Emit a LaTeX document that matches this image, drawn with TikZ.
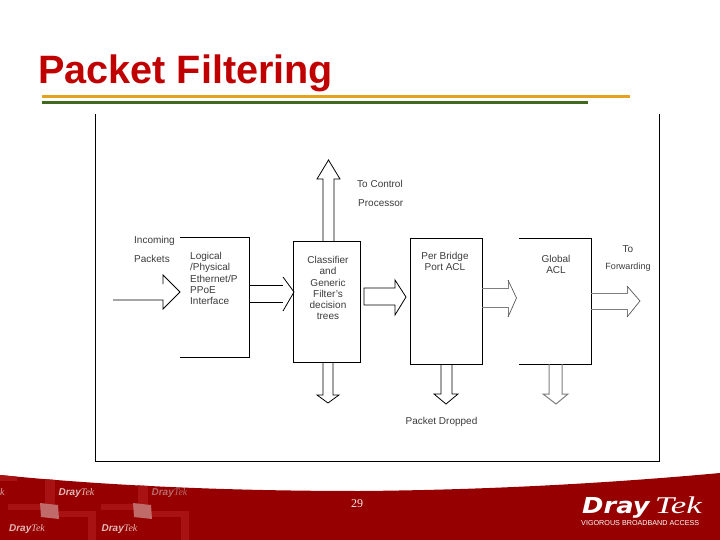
\documentclass[tikz,border=0pt]{standalone}
\usepackage{fontspec}
\setmainfont{Liberation Sans}
\newfontfamily\serifnum{Liberation Serif}
\newfontfamily\logofont{DejaVu Sans}
\usepackage{xcolor}
\usetikzlibrary{calc}
\definecolor{titlered}{HTML}{C00000}
\definecolor{footred}{HTML}{960000}
\definecolor{bandred}{HTML}{A81212}
\definecolor{patchred}{HTML}{C06A6A}
\definecolor{barorange}{HTML}{E5A21F}
\definecolor{bargreen}{HTML}{3F6A1C}
\definecolor{labelgray}{HTML}{3A3A3A}
\definecolor{softgray}{HTML}{7E7E7E}
\newcommand{\wmarkword}{{\bfseries\itshape Dray}{\serifnum\itshape Tek}}

\begin{document}
\begin{tikzpicture}[
  x=1pt, y=-1pt,
  line join=miter,
  boxnode/.style={draw=black, line width=0.9pt, inner sep=0pt},
  openbox/.style={inner sep=0pt},
  hollow/.style={draw=black, line width=0.8pt},
  hollowgray/.style={draw=softgray, line width=1pt},
  txt/.style={text=labelgray, font=\fontsize{10}{11.3}\selectfont, inner sep=0pt, align=center},
  wmarktext/.style={font=\fontsize{10}{10}\selectfont, inner sep=0pt},
  ]
  \useasboundingbox (0,0) rectangle (720,540);

  % Title and the two bars
  \node[anchor=base west, inner sep=0pt, text=titlered, font=\bfseries\fontsize{39.6}{39.6}\selectfont] (title) at (38,84) {Packet Filtering};
  \draw[barorange, line width=3pt] (42,96.5) -- (630,96.5);
  \draw[bargreen, line width=3pt] (42,102.5) -- (588,102.5);

  % Footer band
  \begin{scope}
    \clip (0,475) .. controls (100,485) and (220,491) .. (360,491)
      .. controls (480,490) and (600,484) .. (720,473) -- (720,540) -- (0,540) -- cycle;
    \fill[footred] (0,460) rectangle (720,540);
    \foreach \dx in {0,93} {
      \fill[bandred] (45+\dx,470) rectangle (55+\dx,505);
      \fill[bandred] (8+\dx,504) rectangle (45+\dx,510);
      \fill[bandred] (58+\dx,511) rectangle (96+\dx,517);
      \fill[bandred] (88+\dx,517) rectangle (96+\dx,540);
      \fill[patchred] (40+\dx,503) -- (58+\dx,505) -- (59+\dx,519) -- (41+\dx,517) -- cycle;
    }
    \fill[bandred] (-5,470) rectangle (17,481);
    \foreach \wx/\wy/\wc in {76.5/493/E3B9B9, 169.5/493/B86A6A, 27/529/E3B9B9, 119.5/529/E3B9B9} {
      \definecolor{wmark}{HTML}{\wc}
      \node[wmarktext, text=wmark] at (\wx,\wy) {\wmarkword};
    }
    \node[wmarktext, text=patchred!60!white, anchor=west] (edgek) at (0,492) {\serifnum\itshape k};
  \end{scope}
  \node[txt, text=white!90!footred, font=\serifnum\fontsize{12}{12}\selectfont] (page) at (357,504) {29};

  % Logo
  \node[anchor=base west, inner sep=0pt, text=white, font=\logofont\bfseries\itshape\fontsize{22}{22}\selectfont] (logodray) at (582,513) {\scalebox{1.17}[1]{Dray}};
  \node[anchor=base east, inner sep=0pt, text=white, font=\serifnum\itshape\fontsize{24}{24}\selectfont] (logotek) at (702,513) {\scalebox{1.45}[1]{Tek}};
  \node[anchor=west, inner sep=0pt, text=white, font=\fontsize{7.2}{7.2}\selectfont] (logotag) at (581,523) {VIGOROUS BROADBAND ACCESS};

  % Outer frame, open on top
  \draw[black, line width=1pt] (95.5,114) -- (95.5,461) -- (659,461) -- (659,114);

  % Blocks
  \node[openbox, minimum width=69pt, minimum height=119pt] (logical) at (214.5,297.5) {};
  \node[boxnode, minimum width=67pt, minimum height=120.5pt] (classifier) at (327,301.75) {};
  \node[boxnode, minimum width=72pt, minimum height=126pt] (bridge) at (446,301) {};
  \node[openbox, minimum width=72pt, minimum height=125pt] (global) at (555,301.5) {};
  \draw[black, line width=0.9pt] (logical.north west) -- (logical.north east) -- (logical.south east) -- (logical.south west);
  \draw[black, line width=0.9pt] (global.north west) -- (global.north east) -- (global.south east) -- (global.south west);

  % Incoming arrow
  \coordinate (instart) at (113,300);
  \draw[hollow] (instart) -- (163,300) -- (163,309) -- (180,292) -- (163,275) -- (163,284);

  % Logical to classifier
  \draw[hollow] (logical.east |- 0,285) -- (283,285);
  \draw[hollow] (logical.east |- 0,302) -- (283,302);
  \draw[hollow] (283,277) -- (294,292) -- (283,311);

  % Up to control processor
  \draw[hollow] (323,0 |- classifier.north) -- (323,179) -- (317,179) -- (328.5,160) -- (340,179) -- (334,179) -- (334,0 |- classifier.north);

  % Classifier down
  \draw[hollow] (323,0 |- classifier.south) -- (323,395) -- (317,395) -- (328,403) -- (339,395) -- (333,395) -- (333,0 |- classifier.south);

  % Classifier to bridge
  \draw[hollow] (395,280) -- (395,288) -- (364,288) -- (364,305) -- (395,305) -- (395,315) -- (406,297) -- cycle;

  % Bridge to global
  \draw[hollowgray] (bridge.east |- 0,288) -- (508,288) -- (508,280);
  \draw[hollowgray] (bridge.east |- 0,307) -- (508,307) -- (508,317);
  \draw[softgray!70!black, line width=0.7pt] (508,280) -- (516.5,298) -- (508,317);

  % Global to forwarding
  \draw[hollowgray] (global.east |- 0,293) -- (627,293) -- (627,286);
  \draw[hollowgray] (global.east |- 0,309) -- (627,309) -- (627,317);
  \draw[softgray!70!black, line width=0.7pt] (627,286) -- (640,301) -- (627,317);

  % Bridge down
  \draw[hollow] (441,0 |- bridge.south) -- (441,394) -- (434,394) -- (446,404) -- (458,394) -- (452,394) -- (452,0 |- bridge.south);

  % Global down
  \draw[hollowgray] (549,0 |- global.south) -- (549,394) -- (543,394) -- (556,404) -- (568,394) -- (562,394) -- (562,0 |- global.south);

  % Labels
  \node[txt, anchor=west] (lblcontrol) at (357,184) {To Control};
  \node[txt, anchor=west] (lblproc) at (358,203) {Processor};
  \node[txt, anchor=west] (lblincoming) at (134,241) {Incoming};
  \node[txt, anchor=west] (lblpackets) at (134,259) {Packets};
  \node[txt, anchor=north west, align=left] (lbllogical) at (190,252) {Logical\\/Physical\\Ethernet/P\\PPoE\\Interface};
  \node[txt, anchor=north] (lblclass) at (328,256) {Classifier\\and\\Generic\\Filter's\\decision\\trees};
  \node[txt, anchor=north] (lblbridge) at (445,252) {Per Bridge\\Port ACL};
  \node[txt, anchor=north] (lblglobal) at (556,255) {Global\\ACL};
  \node[txt] (lblto) at (628,249) {To};
  \node[txt, font=\fontsize{9}{11.3}\selectfont] (lblfwd) at (628,267) {Forwarding};
  \node[txt] (lbldrop) at (441.5,422) {Packet Dropped};
\end{tikzpicture}
\end{document}
